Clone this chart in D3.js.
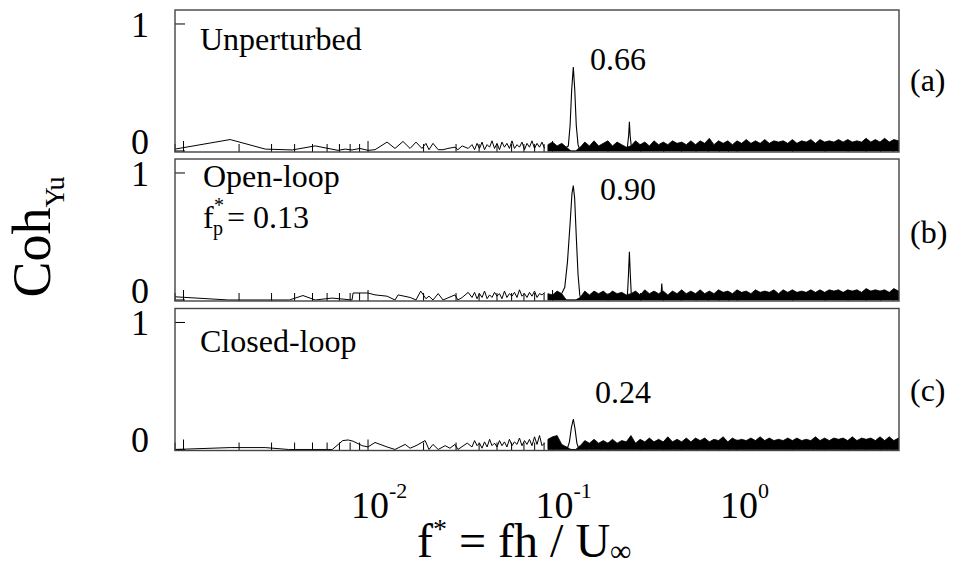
<!DOCTYPE html>
<html lang="en">
<head>
<meta charset="utf-8">
<title>Coherence Coh_Yu</title>
<script src="https://d3js.org/d3.v7.min.js"></script>
<style>
  body { margin: 0; background: #fff; }
</style>
</head>
<body>
<script>
// ---------- data ----------
var panelNames = ["Unperturbed", "Open-loop", "Closed-loop"];
var panelTags = ["(a)", "(b)", "(c)"];
var peakLabels = ["0.66", "0.90", "0.24"];
var xTickValues = [0.01, 0.1, 1];
var xTickExp = ["-2", "-1", "0"];
var yTickValues = [0, 1];

// low-frequency part (individual points visible)
var lowF_a = [0.0009, 0.00179, 0.00277, 0.00388, 0.00517, 0.00688, 0.00751, 0.00819, 0.00903, 0.0100, 0.01091, 0.01268, 0.0140, 0.01548, 0.0169, 0.0182, 0.0196, 0.0206, 0.0214, 0.0225, 0.0240, 0.0255, 0.0271, 0.0296, 0.0307, 0.0324, 0.0349];
var lowV_a = [0.015, 0.09, 0.015, 0.008, 0.04, 0.005, 0.015, 0.008, 0.02, 0.005, 0.01, 0.07, 0.02, 0.075, 0.02, 0.07, 0.02, 0.06, 0.01, 0.06, 0.01, 0.01, 0.02, 0.03, 0.01, 0.04, 0.02];
var lowF_b = [0.0009, 0.00175, 0.00375, 0.00444, 0.00517, 0.00638, 0.00819, 0.0083, 0.00999, 0.01091, 0.01268, 0.0140, 0.01456, 0.0169, 0.0182, 0.0193, 0.0206, 0.0214, 0.0225, 0.0240, 0.0255, 0.0296, 0.0307, 0.0324, 0.0349];
var lowV_b = [0.025, 0.0, 0.0, 0.035, 0.0, 0.015, 0.0, 0.055, 0.055, 0.04, 0.03, 0.0, 0.04, 0.02, 0.0, 0.07, 0.01, 0.03, 0.0, 0.05, 0.0, 0.04, 0.0, 0.02, 0.06];
var lowF_c = [0.0009, 0.00179, 0.00277, 0.0037, 0.0064, 0.0069, 0.0073, 0.0078, 0.0083, 0.0093, 0.00999, 0.01091, 0.01268, 0.0140, 0.0159, 0.0169, 0.0182, 0.0204, 0.0214, 0.0225, 0.0240, 0.0262, 0.0278, 0.0296, 0.0307, 0.0345];
var lowV_c = [0.0, 0.015, 0.015, 0.0, 0.0, 0.04, 0.07, 0.075, 0.065, 0.03, 0.02, 0.055, 0.02, 0.0, 0.04, 0.01, 0.03, 0.07, 0.0, 0.04, 0.0, 0.03, 0.01, 0.04, 0.0, 0.05];

// mid-frequency zigzag (0.036 - 0.09)
var midF = [0.0366, 0.0378, 0.039, 0.0402, 0.0415, 0.0428, 0.0442, 0.0456, 0.047, 0.0485,
  0.05, 0.0516, 0.0532, 0.0549, 0.0566, 0.0584, 0.0603, 0.0622, 0.0642, 0.0662,
  0.0683, 0.0705, 0.0727, 0.075, 0.0774, 0.0799, 0.0824, 0.085, 0.0877, 0.0905];
var midV_a = [0.05, 0.01, 0.06, 0.02, 0.07, 0.01, 0.05, 0.03, 0.08, 0.02, 0.06, 0.01, 0.07, 0.03, 0.06,
  0.02, 0.08, 0.02, 0.05, 0.03, 0.07, 0.01, 0.06, 0.03, 0.08, 0.02, 0.06, 0.03, 0.07, 0.02];
var midV_b = [0.02, 0.06, 0.01, 0.05, 0.02, 0.07, 0.01, 0.04, 0.02, 0.06, 0.03, 0.05, 0.01, 0.07, 0.02,
  0.05, 0.03, 0.06, 0.02, 0.08, 0.03, 0.05, 0.02, 0.06, 0.03, 0.07, 0.02, 0.05, 0.04, 0.06];
var midV_c = [0.02, 0.07, 0.03, 0.05, 0.01, 0.06, 0.02, 0.08, 0.03, 0.05, 0.02, 0.07, 0.03, 0.06, 0.02,
  0.08, 0.03, 0.06, 0.04, 0.09, 0.03, 0.07, 0.04, 0.08, 0.03, 0.10, 0.04, 0.11, 0.03, 0.05];

// coherence peaks (null = gap between peaks)
var spikeF_a = [0.1189, 0.1218, 0.1245, 0.127, 0.1296, 0.132, 0.1345, 0.1375, 0.1397, null, 0.2545, 0.2585, 0.261, 0.2635, 0.2675];
var spikeV_a = [0.03, 0.04, 0.2, 0.48, 0.66, 0.48, 0.2, 0.05, 0.02, null, 0.03, 0.12, 0.23, 0.12, 0.03];
var spikeF_b = [0.1121, 0.1165, 0.1205, 0.1245, 0.1275, 0.1296, 0.1318, 0.1345, 0.1375, 0.1405, 0.1417, null, 0.2545, 0.258, 0.261, 0.264, 0.2675, null, 0.387, 0.391, 0.395];
var spikeV_b = [0.05, 0.1, 0.3, 0.6, 0.84, 0.9, 0.8, 0.5, 0.2, 0.04, 0.02, null, 0.03, 0.2, 0.38, 0.2, 0.03, null, 0.03, 0.13, 0.03];
var spikeF_c = [0.1189, 0.1205, 0.1235, 0.1265, 0.1296, 0.1325, 0.1355, 0.1385, 0.1413];
var spikeV_c = [0.02, 0.01, 0.06, 0.17, 0.24, 0.16, 0.05, 0.01, 0.03];

// dense noise band: upper envelope
var bandF = [0.09441, 0.1, 0.1059,
  0.1122, 0.1189, 0.1259, 0.1334, 0.1413, 0.1496, 0.1585, 0.1679, 0.1778, 0.1884,
  0.1995, 0.2113, 0.2239, 0.2371, 0.2512, 0.2661, 0.2818, 0.2985, 0.3162, 0.335,
  0.3548, 0.3758, 0.3981, 0.4217, 0.4467, 0.4732, 0.5012, 0.5309, 0.5623, 0.5957,
  0.631, 0.6683, 0.7079, 0.7499, 0.7943, 0.8414, 0.8913, 0.9441, 1.0, 1.059,
  1.122, 1.189, 1.259, 1.334, 1.413, 1.496, 1.585, 1.679, 1.778, 1.884,
  1.995, 2.113, 2.239, 2.371, 2.512, 2.661, 2.818, 2.985, 3.162, 3.35,
  3.548, 3.758, 3.981, 4.217, 4.467, 4.732, 5.012, 5.309, 5.623, 5.957,
  6.31, 6.683, 7.079, 7.499, 7.943];
var bandTop_a = [0.05, 0.07, 0.04,
  0.06, 0.03, 0, 0, 0.03, 0.07, 0.04, 0.08, 0.04, 0.06,
  0.08, 0.04, 0.07, 0.05, 0.03, 0.04, 0.08, 0.05, 0.07, 0.04,
  0.08, 0.05, 0.07, 0.05, 0.08, 0.06, 0.07, 0.05, 0.08, 0.05,
  0.08, 0.06, 0.10, 0.05, 0.08, 0.06, 0.08, 0.05, 0.08, 0.06,
  0.09, 0.06, 0.08, 0.06, 0.09, 0.06, 0.08, 0.07, 0.08, 0.06,
  0.09, 0.06, 0.08, 0.07, 0.09, 0.06, 0.09, 0.07, 0.08, 0.07,
  0.09, 0.07, 0.09, 0.07, 0.08, 0.07, 0.10, 0.07, 0.09, 0.07,
  0.10, 0.07, 0.09, 0.08, 0.09];
var bandTop_b = [0.05, 0.04, 0.07,
  0.05, 0, 0, 0, 0.02, 0.07, 0.04, 0.07, 0.05, 0.07,
  0.04, 0.07, 0.05, 0.06, 0.04, 0.05, 0.07, 0.04, 0.08, 0.05,
  0.07, 0.05, 0.07, 0.04, 0.07, 0.05, 0.08, 0.05, 0.07, 0.05,
  0.08, 0.05, 0.07, 0.05, 0.08, 0.06, 0.07, 0.05, 0.08, 0.06,
  0.07, 0.05, 0.08, 0.06, 0.07, 0.06, 0.08, 0.05, 0.08, 0.06,
  0.08, 0.06, 0.07, 0.06, 0.08, 0.06, 0.08, 0.06, 0.08, 0.07,
  0.08, 0.06, 0.08, 0.07, 0.08, 0.06, 0.09, 0.07, 0.08, 0.07,
  0.08, 0.06, 0.09, 0.07, 0.08];
var bandTop_c = [0.08, 0.10, 0.11,
  0.04, 0.02, 0, 0, 0.03, 0.07, 0.05, 0.08, 0.05, 0.07,
  0.05, 0.08, 0.05, 0.07, 0.06, 0.11, 0.05, 0.08, 0.06, 0.09,
  0.06, 0.08, 0.06, 0.10, 0.06, 0.08, 0.06, 0.09, 0.06, 0.09,
  0.07, 0.09, 0.06, 0.08, 0.07, 0.10, 0.06, 0.09, 0.07, 0.08,
  0.07, 0.09, 0.07, 0.10, 0.07, 0.09, 0.07, 0.08, 0.07, 0.09,
  0.07, 0.09, 0.07, 0.08, 0.07, 0.10, 0.07, 0.09, 0.07, 0.09,
  0.08, 0.09, 0.07, 0.10, 0.07, 0.09, 0.08, 0.09, 0.07, 0.10,
  0.07, 0.10, 0.07, 0.09, 0.10];

// ---------- layout ----------
var w = 959, h = 568;
var left = 175, right = 899;
var tops = [10, 159, 308.5];
var ph = 142;
var serif = "'Liberation Serif', 'Times New Roman', Times, serif";

var zip = function(fs, vs) { return fs.map(function(f, i) { return {f: f, v: vs[i]}; }); };
var lines = [zip(lowF_a.concat(midF), lowV_a.concat(midV_a)),
             zip(lowF_b.concat(midF), lowV_b.concat(midV_b)),
             zip(lowF_c.concat(midF), lowV_c.concat(midV_c))];
var spikes = [zip(spikeF_a, spikeV_a), zip(spikeF_b, spikeV_b), zip(spikeF_c, spikeV_c)];
var bands = [zip(bandF, bandTop_a), zip(bandF, bandTop_b), zip(bandF, bandTop_c)];

var x = d3.scaleLog().domain([0.000899, 7.55]).range([left, right]);

var svg = d3.select("body").append("svg").attr("width", w).attr("height", h)
  .attr("font-family", serif);
svg.append("rect").attr("width", w).attr("height", h).attr("fill", "white");

var tagY = [91, 243, 401];
var peakLabelPos = [[590, 70], [600, 200], [595, 403]];

panelNames.forEach(function(name, p) {
  var top = tops[p];
  var y = d3.scaleLinear().domain([-0.008, 1.11]).range([top + ph, top]);
  var g = svg.append("g");

  g.append("clipPath").attr("id", "clip" + p)
    .append("rect").attr("x", left).attr("y", top).attr("width", right - left).attr("height", ph);

  var plot = g.append("g").attr("clip-path", "url(#clip" + p + ")");

  // noise band
  plot.append("path").datum(bands[p])
    .attr("d", d3.area().x(function(d) { return x(d.f); }).y0(y(0)).y1(function(d) { return y(d.v); }))
    .attr("fill", "#000").attr("stroke", "#000").attr("stroke-width", 0.8);

  var line = d3.line()
    .defined(function(d) { return d.f != null; })
    .x(function(d) { return x(d.f); })
    .y(function(d) { return y(d.v); });

  plot.append("path").datum(lines[p]).attr("d", line)
    .attr("fill", "none").attr("stroke", "#000").attr("stroke-width", 1);
  plot.append("path").datum(spikes[p]).attr("d", line)
    .attr("fill", "none").attr("stroke", "#000").attr("stroke-width", 1.1);

  // x ticks pointing up from the bottom
  x.ticks().forEach(function(t) {
    var lg = Math.log10(t);
    var major = Math.abs(lg - Math.round(lg)) < 1e-6;
    g.append("line")
      .attr("x1", x(t)).attr("x2", x(t))
      .attr("y1", top + ph).attr("y2", top + ph - (major ? 11 : 8))
      .attr("stroke", "#000").attr("stroke-width", 1);
  });

  // y ticks and labels
  yTickValues.forEach(function(v) {
    g.append("line").attr("x1", left).attr("x2", left + 10)
      .attr("y1", y(v)).attr("y2", y(v)).attr("stroke", "#000").attr("stroke-width", 1);
    g.append("text").attr("x", 149).attr("y", v === 1 ? y(v) + 13 : y(v) + 3)
      .attr("text-anchor", "end").style("font-size", "36px").text(v);
  });

  // frame
  g.append("rect").attr("x", left).attr("y", top).attr("width", right - left).attr("height", ph)
    .attr("fill", "none").attr("stroke", "#444").attr("stroke-width", 1.4);

  // labels
  if (p === 1) {
    g.append("text").attr("x", 203).attr("y", 187).style("font-size", "32px").text(name);
    var t = g.append("text").style("font-size", "32px");
    t.append("tspan").attr("x", 203).attr("y", 228).text("f");
    t.append("tspan").attr("x", 214).attr("y", 212).style("font-size", "20px").text("*");
    t.append("tspan").attr("x", 213).attr("y", 235).style("font-size", "20px").text("p");
    t.append("tspan").attr("x", 227).attr("y", 228).text("= 0.13");
  } else {
    g.append("text").attr("x", 200).attr("y", p === 0 ? 50 : 352).style("font-size", "32px").text(name);
  }
  g.append("text").attr("x", peakLabelPos[p][0]).attr("y", peakLabelPos[p][1])
    .style("font-size", "32px").text(peakLabels[p]);
  g.append("text").attr("x", 910).attr("y", tagY[p]).style("font-size", "32px").text(panelTags[p]);
});

// x tick labels below bottom panel
xTickValues.forEach(function(v, i) {
  var t = svg.append("text").attr("x", x(v) - 17).attr("y", 518).style("font-size", "38px");
  t.append("tspan").text("10");
  t.append("tspan").attr("dy", -20).style("font-size", "22px").text(xTickExp[i]);
});

// axis titles
var xt = svg.append("text").attr("x", 417).attr("y", 557).style("font-size", "48px");
xt.append("tspan").text("f");
xt.append("tspan").attr("dy", -19).style("font-size", "28px").text("*");
xt.append("tspan").attr("dy", 19).text(" = fh / U");
xt.append("tspan").attr("dy", 4).style("font-size", "30px").text("\u221e");

var yt = svg.append("text").attr("transform", "translate(50,237) rotate(-90)")
  .attr("text-anchor", "middle").style("font-size", "54px");
yt.append("tspan").text("Coh");
yt.append("tspan").attr("dy", 14).style("font-size", "28px").text("Yu");
</script>
</body>
</html>
